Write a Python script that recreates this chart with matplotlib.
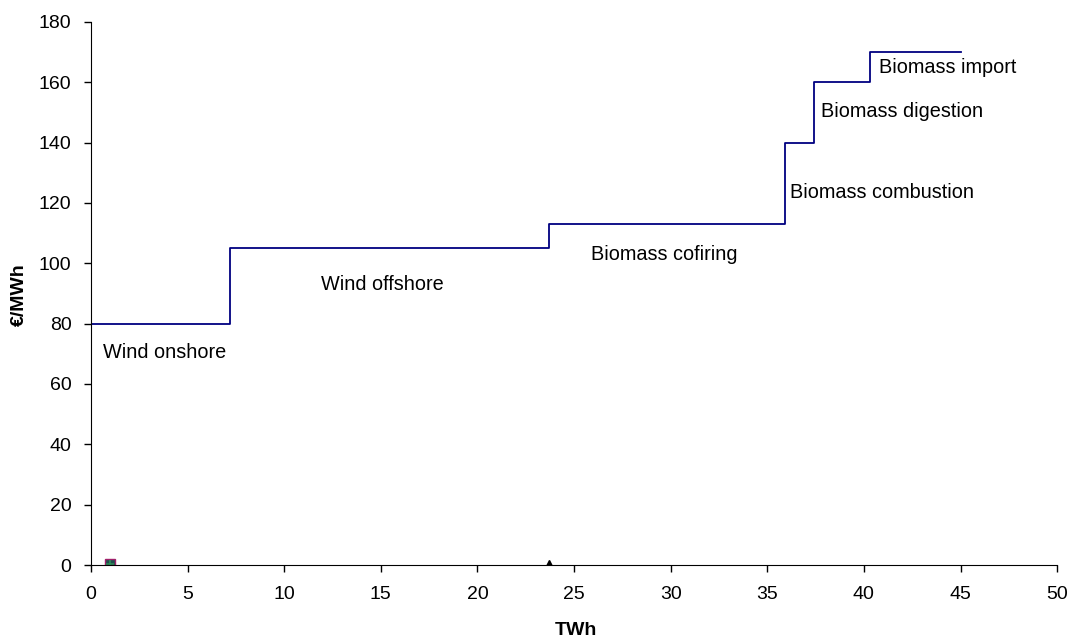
import matplotlib
matplotlib.use("Agg")
import matplotlib.pyplot as plt

plt.rcParams['font.family'] = ['Liberation Sans', 'DejaVu Sans']

# supply curve: cumulative TWh at each step edge and cost in EUR/MWh
step_x = [0, 7.2, 23.7, 35.9, 37.4, 40.3, 45.0]
step_cost = [80, 105, 113, 140, 160, 170]

labels = ["Wind onshore", "Wind offshore", "Biomass cofiring",
          "Biomass combustion", "Biomass digestion", "Biomass import"]
label_x = [0.6, 11.9, 25.9, 36.2, 37.8, 40.8]
label_y = [70.3, 93.1, 102.8, 123.6, 150.2, 164.7]

# stray markers near zero
square_pt = (1.0, 0.5)
triangle_pt = (23.7, 0.5)

fig = plt.figure(figsize=(10.7, 6.4), dpi=100)
ax = fig.add_axes([0.085, 0.117, 0.903, 0.849])

xs, ys = [], []
for i, c in enumerate(step_cost):
    xs += [step_x[i], step_x[i + 1]]
    ys += [c, c]
ax.plot(xs, ys, color='#000080', lw=1.3)

ax.plot(*square_pt, marker='s', ms=6.5, color='#1f4f4f', mec='#a0206a', mew=1.0)
ax.plot(*square_pt, marker='+', ms=6, color='#2e8b57', mew=1.2)
ax.plot(*triangle_pt, marker='^', ms=6, color='black')

for t, x, y in zip(labels, label_x, label_y):
    ax.text(x, y, t, fontsize=14.3, va='center', ha='left')

ax.set_xlim(0, 50)
ax.set_ylim(0, 180)
ax.set_xticks(range(0, 51, 5))
ax.set_yticks(range(0, 181, 20))
ax.tick_params(labelsize=14, direction='out', length=5, width=1)
ax.tick_params(axis='x', pad=10)
ax.tick_params(axis='y', pad=9)
ax.spines['top'].set_visible(False)
ax.spines['right'].set_visible(False)
ax.set_xlabel("TWh", fontsize=14, fontweight='bold', va='center')
ax.set_ylabel("€/MWh", fontsize=14, fontweight='bold', va='center')
ax.xaxis.set_label_coords(0.502, -0.12)
ax.yaxis.set_label_coords(-0.074, 0.497)

fig.savefig("out.png", dpi=100)
